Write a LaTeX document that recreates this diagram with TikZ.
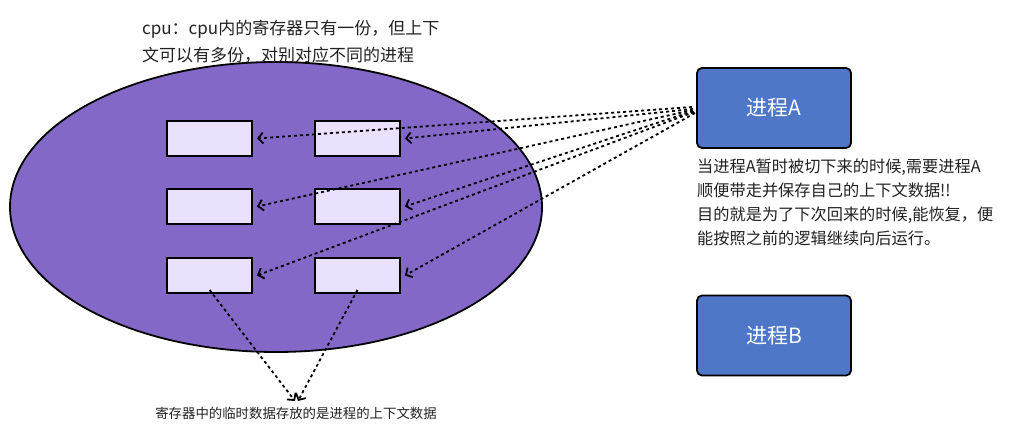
\documentclass[tikz,border=0pt]{standalone}
\usepackage{fontspec}
\setmainfont{Noto Sans CJK SC}
\usetikzlibrary{arrows.meta}
\definecolor{ellfill}{HTML}{8468C8}
\definecolor{regfill}{HTML}{E9E1FF}
\definecolor{procfill}{HTML}{4F77C8}
\definecolor{txt}{HTML}{222222}
\tikzset{
  reg/.style={draw=black, line width=1.8pt, fill=regfill, minimum width=85pt, minimum height=35pt, inner sep=0pt},
  proc/.style={draw=black, line width=1.8pt, fill=procfill, rounded corners=5pt, minimum width=154pt, minimum height=80pt, text=white, font=\fontsize{21}{25}\selectfont},
  dashar/.style={dash pattern=on 3pt off 3pt, line width=1.8pt, -{Straight Barb[length=5pt,width=11pt]}},
}
\begin{document}
\begin{tikzpicture}[x=1pt,y=-1pt]
\useasboundingbox (0,0) rectangle (1018,427);
\fill[white] (0,0) rectangle (1018,427);
\draw[fill=ellfill, line width=1.8pt] (276,207) ellipse [x radius=266, y radius=145];
\node[reg] (r11) at (209.5,138.5) {};
\node[reg] (r12) at (357.5,138.5) {};
\node[reg] (r21) at (209.5,206.5) {};
\node[reg] (r22) at (357.5,206.5) {};
\node[reg] (r31) at (209.5,275.5) {};
\node[reg] (r32) at (357.5,275.5) {};
\node[proc] (pa) at (774,108) {进程A};
\node[proc] (pb) at (774,335.5) {进程B};
\coordinate (s1) at (692,107);
\coordinate (s2) at (693,109);
\coordinate (s3) at (693,110);
\coordinate (s4) at (693,111);
\coordinate (s5) at (694,112);
\coordinate (s6) at (695,113);
\draw[dashar] (s1) -- ([xshift=4pt]r11.east);
\draw[dashar] (s2) -- ([xshift=4pt]r12.east);
\draw[dashar] (s3) -- ([xshift=4pt]r21.east);
\draw[dashar] (s4) -- ([xshift=4pt]r22.east);
\draw[dashar] (s5) -- ([xshift=4pt]r31.east);
\draw[dashar] (s6) -- ([xshift=4pt]r32.east);
\node[anchor=north, inner sep=0pt, text=txt, font=\fontsize{13.4}{16}\selectfont] (lbl) at (296,407) {寄存器中的临时数据存放的是进程的上下文数据};
\coordinate (t1) at (295,401);
\coordinate (t2) at (298,401);
\draw[dashar] ([yshift=4pt]r31.south) -- (t1);
\draw[dashar] ([yshift=4pt]r32.south) -- (t2);
\node[anchor=north west, inner sep=0pt, text=txt, align=left, font=\fontsize{17}{27}\selectfont] (cpu) at (142,20) {cpu：cpu内的寄存器只有一份，但上下\\文可以有多份，对别对应不同的进程};
\node[anchor=north west, inner sep=0pt, text=txt, align=left, font=\fontsize{16.2}{24}\selectfont] (desc) at (697,159) {当进程A暂时被切下来的时候,需要进程A\\顺便带走并保存自己的上下文数据!!\\目的就是为了下次回来的时候,能恢复，便\\能按照之前的逻辑继续向后运行。};
\end{tikzpicture}
\end{document}
